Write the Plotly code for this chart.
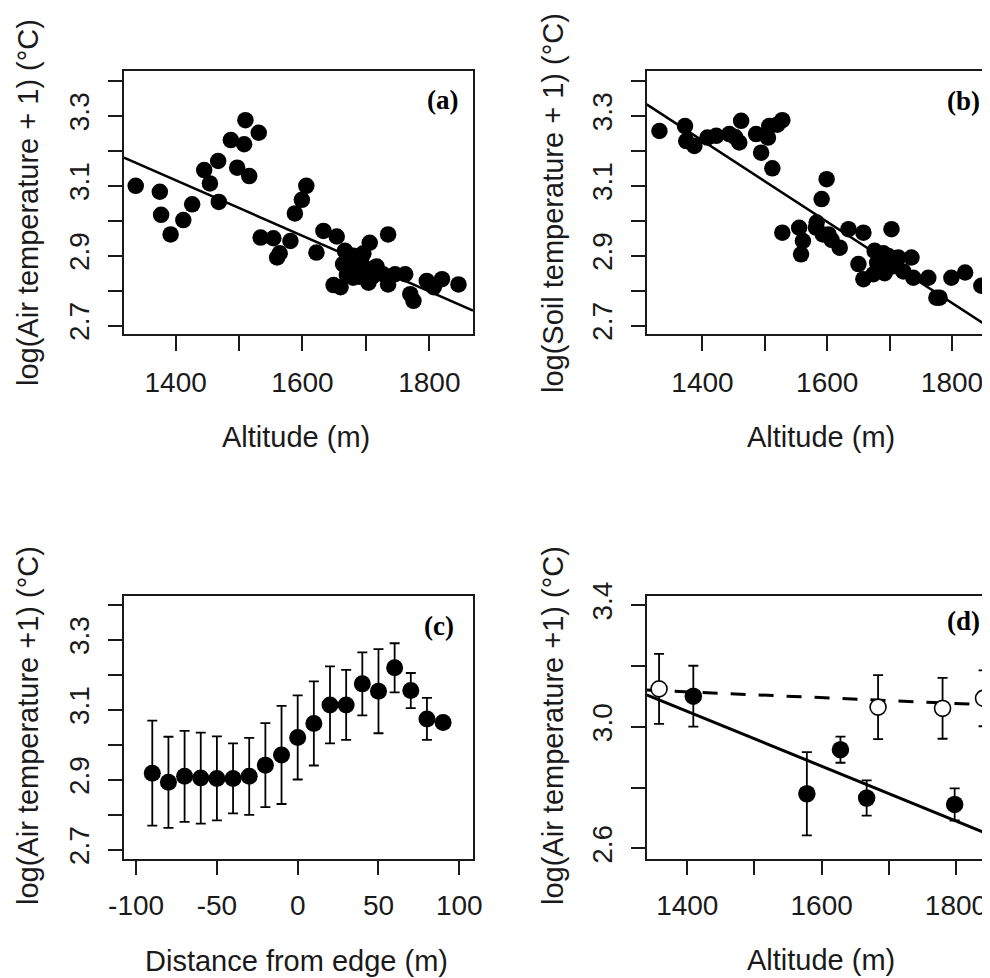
import plotly.graph_objects as go

# ---------------- data ----------------
# (a) air temperature vs altitude
a_alt = [1337, 1375, 1377, 1392, 1412, 1426, 1445, 1454, 1467, 1468, 1487, 1497, 1508, 1510,
         1516, 1531, 1534, 1554, 1560, 1564, 1581, 1588, 1599, 1606, 1622, 1633, 1649, 1654,
         1660, 1664, 1667, 1672, 1680, 1680, 1688, 1690, 1693, 1695, 1699, 1704, 1706, 1710,
         1714, 1727, 1735, 1735, 1746, 1762, 1770, 1775, 1796, 1807, 1820, 1846,
         1696, 1717, 1670]
a_temp = [3.100, 3.083, 3.017, 2.961, 3.002, 3.047, 3.145, 3.107, 3.171, 3.054, 3.231, 3.152,
          3.219, 3.288, 3.128, 3.252, 2.952, 2.950, 2.895, 2.907, 2.942, 3.021, 3.060, 3.100,
          2.909, 2.971, 2.816, 2.955, 2.810, 2.876, 2.914, 2.857, 2.837, 2.900, 2.876, 2.840,
          2.895, 2.870, 2.857, 2.823, 2.937, 2.840, 2.866, 2.847, 2.818, 2.961, 2.847, 2.847,
          2.790, 2.771, 2.828, 2.810, 2.833, 2.818,
          2.907, 2.869, 2.845]
a_fit_x = [1318.5, 1868.9]
a_fit_y = [3.181, 2.743]

# (b) soil temperature vs altitude
b_alt = [1331, 1372, 1374, 1387, 1408, 1422, 1443, 1452, 1459, 1462, 1486, 1494, 1505, 1507,
         1512, 1520, 1528, 1528, 1555, 1558, 1561, 1582, 1583, 1591, 1593, 1599, 1602, 1620,
         1634, 1650, 1658, 1658, 1674, 1676, 1680, 1687, 1692, 1698, 1703, 1706, 1714, 1735,
         1738, 1762, 1775, 1780, 1799, 1821, 1847,
         1607, 1690, 1722, 1711]
b_temp = [3.257, 3.271, 3.228, 3.214, 3.238, 3.243, 3.248, 3.240, 3.224, 3.286, 3.248, 3.195,
          3.238, 3.271, 3.150, 3.275, 3.288, 2.966, 2.980, 2.904, 2.942, 2.980, 2.995, 3.062,
          2.961, 3.119, 2.961, 2.923, 2.976, 2.876, 2.966, 2.833, 2.847, 2.914, 2.880, 2.876,
          2.850, 2.899, 2.976, 2.870, 2.895, 2.895, 2.837, 2.837, 2.780, 2.780, 2.837, 2.852,
          2.814,
          2.945, 2.907, 2.855, 2.893]
b_fit_x = [1310.6, 1860.9]
b_fit_y = [3.333, 2.694]

# (c) air temperature vs distance from edge
c_dist = [-90, -80, -70, -60, -50, -40, -30, -20, -10, 0, 10, 20, 30, 40, 50, 60, 70, 80, 90]
c_temp = [2.919, 2.893, 2.910, 2.905, 2.904, 2.904, 2.910, 2.942, 2.971, 3.021, 3.061, 3.114,
          3.114, 3.174, 3.153, 3.220, 3.155, 3.074, 3.064]
c_err = [0.150, 0.130, 0.130, 0.130, 0.120, 0.100, 0.110, 0.120, 0.140, 0.120, 0.120, 0.110,
         0.100, 0.090, 0.120, 0.070, 0.050, 0.060, 0.0]

# (d) air temperature vs altitude, two groups
d_fill_alt = [1409, 1578, 1628, 1667, 1798]
d_fill_temp = [3.101, 2.780, 2.925, 2.766, 2.745]
d_fill_err = [0.100, 0.137, 0.043, 0.058, 0.053]
d_open_alt = [1358, 1684, 1780, 1841]
d_open_temp = [3.125, 3.065, 3.061, 3.094]
d_open_err = [0.115, 0.105, 0.100, 0.092]
d_solid_x = [1339.6, 1850.6]
d_solid_y = [3.105, 2.645]
d_dash_x = [1339.6, 1850.6]
d_dash_y = [3.121, 3.072]

# ticks
alt_ticks = [1400, 1500, 1600, 1700, 1800]
alt_text = ["1400", "", "1600", "", "1800"]
t_ticks = [2.7, 2.8, 2.9, 3.0, 3.1, 3.2, 3.3, 3.4]
t_text = ["2.7", "", "2.9", "", "3.1", "", "3.3", ""]
dist_ticks = [-100, -50, 0, 50, 100]
dist_text = ["-100", "-50", "0", "50", "100"]
d_ticks = [2.6, 2.8, 3.0, 3.2, 3.4]
d_text = ["2.6", "", "3.0", "", "3.4"]

# ---------------- figure ----------------
# the page body keeps an 8px margin, so the figure is 8px smaller and every
# position below (measured on the 990x978 picture) is shifted by OFF
OFF = 8
W, H = 990 - OFF, 978 - OFF
INK = "#1a1a1a"
SANS = "Liberation Sans, Arial, sans-serif"
SERIF = "Liberation Serif, Times New Roman, serif"


def fx(v):
    return (v - OFF) / W


def fy(v):
    return 1 - (v - OFF) / H


def dx(a, b):
    return [fx(a), min(fx(b), 1.0)]


def dy(top, bottom):
    return [fy(bottom), fy(top)]


fig = go.Figure()

dot = dict(color="black", size=16.5, symbol="circle", line=dict(width=0))

fig.add_trace(go.Scatter(x=a_alt, y=a_temp, mode="markers", marker=dot, xaxis="x", yaxis="y"))
fig.add_trace(go.Scatter(x=a_fit_x, y=a_fit_y, mode="lines", line=dict(color="black", width=2.5),
                         xaxis="x", yaxis="y"))

fig.add_trace(go.Scatter(x=b_alt, y=b_temp, mode="markers", marker=dot, xaxis="x2", yaxis="y2"))
fig.add_trace(go.Scatter(x=b_fit_x, y=b_fit_y, mode="lines", line=dict(color="black", width=2.5),
                         xaxis="x2", yaxis="y2"))

fig.add_trace(go.Scatter(x=c_dist, y=c_temp, mode="markers", marker=dict(color="black", size=17),
                         error_y=dict(type="data", array=c_err, visible=True, color="black",
                                      thickness=1.8, width=5),
                         xaxis="x3", yaxis="y3"))

fig.add_trace(go.Scatter(x=d_dash_x, y=d_dash_y, mode="lines",
                         line=dict(color="black", width=3, dash="15px,13px"),
                         xaxis="x4", yaxis="y4"))
fig.add_trace(go.Scatter(x=d_solid_x, y=d_solid_y, mode="lines", line=dict(color="black", width=3),
                         xaxis="x4", yaxis="y4"))
fig.add_trace(go.Scatter(x=d_open_alt, y=d_open_temp, mode="markers",
                         marker=dict(color="white", size=16, line=dict(color="black", width=1.6)),
                         error_y=dict(type="data", array=d_open_err, visible=True, color="black",
                                      thickness=1.8, width=5),
                         xaxis="x4", yaxis="y4"))
fig.add_trace(go.Scatter(x=d_fill_alt, y=d_fill_temp, mode="markers",
                         marker=dict(color="black", size=17.5),
                         error_y=dict(type="data", array=d_fill_err, visible=True, color="black",
                                      thickness=1.8, width=5),
                         xaxis="x4", yaxis="y4"))

tickfont = dict(family=SANS, size=28, color=INK)


def xax(domain, rng, vals, text, anchor, mirror=True, standoff=8):
    return dict(domain=domain, range=rng, anchor=anchor, tickvals=vals, ticktext=text,
                ticks="outside", ticklen=15, tickwidth=1.6, tickcolor=INK,
                showline=True, linecolor=INK, linewidth=1.6, mirror=mirror,
                showgrid=False, zeroline=False, tickfont=tickfont, ticklabelstandoff=standoff,
                automargin=False)


def yax(domain, rng, vals, text, anchor, mirror=True):
    return dict(domain=domain, range=rng, anchor=anchor, tickvals=vals, ticktext=text,
                ticks="outside", ticklen=14, tickwidth=1.6, tickcolor=INK,
                showline=True, linecolor=INK, linewidth=1.6, mirror=mirror,
                showgrid=False, zeroline=False, tickfont=tickfont, tickangle=-90,
                ticklabelstandoff=8, automargin=False)


top_row = dy(71, 334)
bot_row = dy(596, 858.5)

fig.update_layout(
    template="none",
    width=W, height=H, margin=dict(l=0, r=0, t=0, b=0, pad=0, autoexpand=False),
    paper_bgcolor="white", plot_bgcolor="white", showlegend=False,
    xaxis=xax(dx(124, 473), [1318.5, 1868.9], alt_ticks, alt_text, "y"),
    yaxis=yax(top_row, [2.676, 3.4286], t_ticks, t_text, "x"),
    xaxis2=xax(dx(646.7, 990), [1310.6, 1860.9], alt_ticks, alt_text, "y2"),
    yaxis2=yax(top_row, [2.676, 3.4286], t_ticks, t_text, "x2", mirror=False),
    xaxis3=xax(dx(124, 473), [-107.5, 108.5], dist_ticks, dist_text, "y3", standoff=6),
    yaxis3=yax(bot_row, [2.6754, 3.4249], t_ticks, t_text, "x3"),
    xaxis4=xax(dx(646.7, 990), [1339.6, 1850.6], alt_ticks, alt_text, "y4", standoff=6),
    yaxis4=yax(bot_row, [2.567, 3.4305], d_ticks, d_text, "x4", mirror=False),
)

titlefont = dict(family=SANS, size=29, color=INK)
ann = []
# axis titles
for x, y, t in [(296, 437, "Altitude (m)"), (821, 437, "Altitude (m)"),
                (296, 961, "Distance from edge (m)"), (821, 960, "Altitude (m)")]:
    ann.append(dict(x=fx(x), y=fy(y), xref="paper", yref="paper", text=t, showarrow=False,
                    xanchor="center", yanchor="middle", font=titlefont))
for x, y, t in [(28, 203, "log(Air temperature + 1) (°C)"),
                (553, 203, "log(Soil temperature + 1) (°C)"),
                (28, 726, "log(Air temperature +1) (°C)"),
                (553, 726, "log(Air temperature +1) (°C)")]:
    ann.append(dict(x=fx(x), y=fy(y), xref="paper", yref="paper", text=t, showarrow=False,
                    textangle=-90, xanchor="center", yanchor="middle", font=titlefont))
# panel letters
for x, y, t in [(442, 100, "(a)"), (963, 101, "(b)"), (439, 626, "(c)"), (963, 621, "(d)")]:
    ann.append(dict(x=fx(x), y=fy(y), xref="paper", yref="paper", text="<b>" + t + "</b>",
                    showarrow=False, xanchor="center", yanchor="middle",
                    font=dict(family=SERIF, size=27, color="black")))
fig.update_layout(annotations=ann)

fig.write_html("out.html")
